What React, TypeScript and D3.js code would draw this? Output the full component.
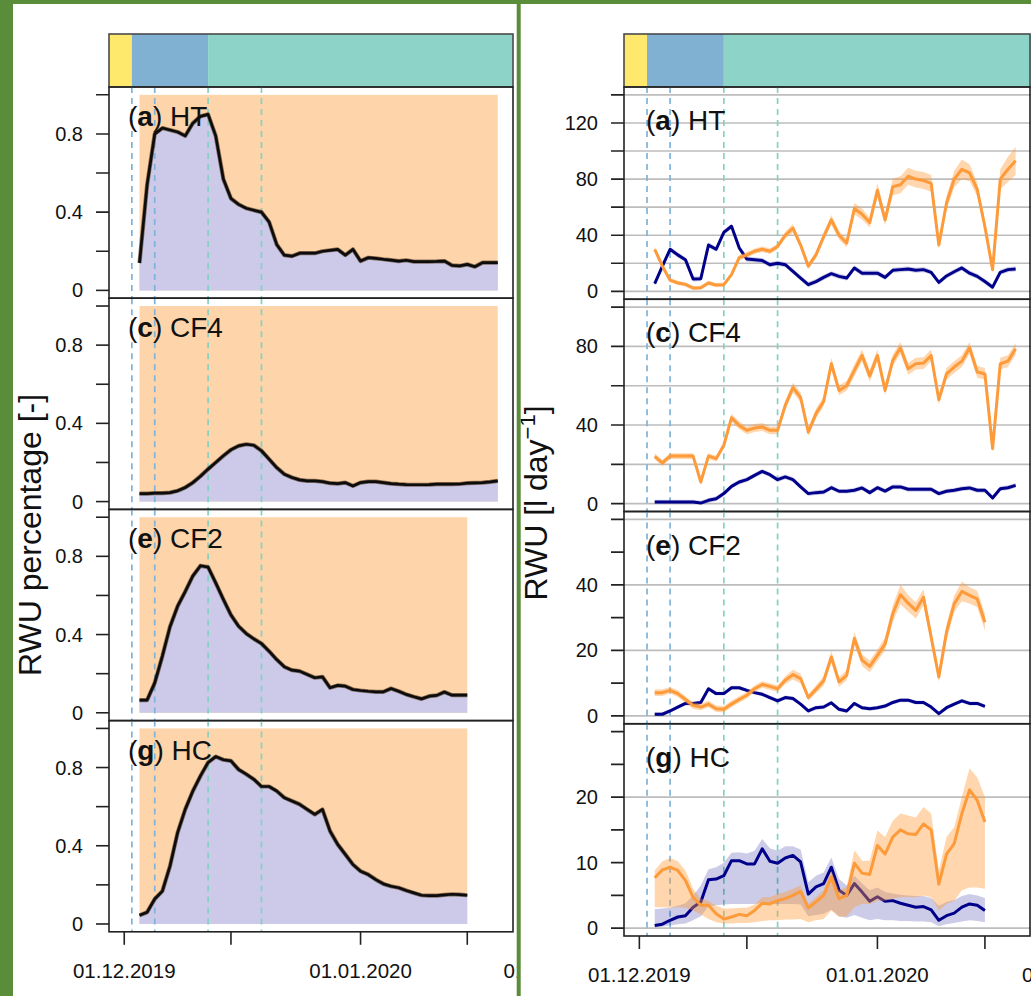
import React from "react";
import * as d3 from "d3";

// ---- data --------------------------------------------------------------
const firstDay = new Date(Date.UTC(2019, 11, 3));
const daysLong = d3.utcDay.range(firstDay, new Date(Date.UTC(2020, 0, 20))); // 03.12 - 19.01
const daysShort = d3.utcDay.range(firstDay, new Date(Date.UTC(2020, 0, 16))); // 03.12 - 15.01

// RWU percentage [-]
const pctHT = [0.14, 0.54, 0.8, 0.83, 0.82, 0.81, 0.79, 0.855, 0.89, 0.9, 0.79, 0.57, 0.47, 0.44, 0.42, 0.41, 0.4, 0.35, 0.235, 0.18, 0.175, 0.19, 0.19, 0.19, 0.2, 0.205, 0.21, 0.18, 0.21, 0.15, 0.167, 0.164, 0.159, 0.155, 0.15, 0.154, 0.147, 0.147, 0.147, 0.148, 0.15, 0.128, 0.125, 0.133, 0.121, 0.142, 0.142, 0.142];
const pctCF4 = [0.041, 0.041, 0.043, 0.043, 0.046, 0.055, 0.072, 0.097, 0.13, 0.166, 0.2, 0.234, 0.265, 0.285, 0.293, 0.288, 0.26, 0.217, 0.174, 0.14, 0.123, 0.111, 0.106, 0.106, 0.102, 0.094, 0.092, 0.097, 0.08, 0.097, 0.102, 0.102, 0.097, 0.092, 0.089, 0.087, 0.086, 0.086, 0.087, 0.089, 0.09, 0.089, 0.09, 0.094, 0.096, 0.097, 0.101, 0.106];
const pctCF2 = [0.065, 0.065, 0.153, 0.29, 0.44, 0.545, 0.62, 0.7, 0.752, 0.745, 0.664, 0.58, 0.5, 0.443, 0.405, 0.378, 0.354, 0.315, 0.272, 0.235, 0.218, 0.213, 0.196, 0.179, 0.184, 0.128, 0.14, 0.136, 0.119, 0.114, 0.11, 0.107, 0.107, 0.124, 0.11, 0.094, 0.082, 0.071, 0.085, 0.089, 0.106, 0.09, 0.09, 0.09];
const pctHC = [0.044, 0.06, 0.128, 0.168, 0.296, 0.467, 0.586, 0.68, 0.757, 0.826, 0.856, 0.84, 0.834, 0.79, 0.766, 0.74, 0.703, 0.703, 0.68, 0.646, 0.629, 0.612, 0.586, 0.56, 0.586, 0.475, 0.407, 0.356, 0.304, 0.27, 0.253, 0.227, 0.205, 0.193, 0.185, 0.171, 0.159, 0.147, 0.145, 0.145, 0.149, 0.152, 0.15, 0.147];

// RWU [l day-1], orange and dark blue series
const htOrange = [30, 18, 8, 6, 5, 2.4, 2.6, 6, 4.5, 4.8, 12, 24, 26, 28.6, 30, 28.6, 32, 40, 45, 33, 18, 26, 39, 51, 40, 34.5, 59, 55, 49, 72, 51, 74.5, 76, 82, 80, 79, 77, 33, 63, 80, 87, 84.5, 72.6, 46, 15.5, 80, 87, 93];
const htOrangeSpread = [2, 2, 1.5, 1.5, 1.5, 1.5, 1.5, 1.5, 1.5, 1.5, 1.5, 2, 2, 2, 2, 2, 2, 2.5, 3, 2.5, 2, 2.5, 3, 3.5, 3, 3, 4, 4, 3.5, 5, 4, 6, 6, 6, 6, 6, 6, 3, 5, 6, 7, 6, 5, 4, 2, 7, 9, 10];
const htBlue = [5.5, 18, 30, 26, 22.6, 8.8, 9, 33, 30, 42, 46.4, 31, 23, 22.6, 22, 19, 20, 19, 14.3, 9.5, 4.8, 7, 10, 12.6, 10.7, 9.5, 16.7, 13, 13, 13, 10, 15, 15.5, 16, 15, 15.5, 13.6, 6.4, 11, 14, 16.7, 13, 10.7, 7, 3, 13.6, 15.5, 16];

const cf4Orange = [24, 20.7, 24.2, 24.2, 24.2, 24.2, 11, 24.2, 22.9, 29.7, 43.7, 39.8, 37.3, 38.5, 39, 37.3, 37.3, 50, 59, 54, 36.4, 45.8, 52, 71.2, 57.6, 60, 67.8, 75.4, 65, 75.4, 57.6, 72.9, 79.3, 68.6, 71.2, 71.5, 75.4, 52.9, 66, 69.5, 72.5, 79.3, 67, 66, 28, 71.2, 72.5, 78.8];
const cf4OrangeSpread = [1.5, 1.5, 1.5, 1.5, 1.5, 1.5, 1.5, 1.5, 1.5, 1.5, 2, 2, 2, 2, 2, 2, 2, 2.5, 2.5, 2.5, 2, 2.5, 2.5, 3, 2.5, 2.5, 3, 3, 3, 3, 2.5, 3, 3, 3, 3, 3, 3, 2.5, 3, 3, 3, 3, 3, 3, 2, 3, 3, 3];
const cf4Blue = [0.8, 0.8, 0.8, 0.8, 0.8, 0.8, 0.3, 1.7, 2.5, 5.1, 8.8, 11, 12.2, 14.4, 16.4, 14.7, 12.2, 13.6, 12.2, 8.5, 5.1, 5.6, 5.9, 8.1, 6.3, 6.3, 6.8, 8, 5.6, 8.1, 6.4, 8.5, 8.5, 7.3, 7.3, 7.3, 7.3, 5.1, 6.3, 6.8, 7.6, 8, 6.8, 6.8, 2.9, 7.6, 8.1, 9.3];

const cf2Orange = [7.1, 7.1, 7.8, 6.8, 5, 3.2, 2.7, 3.6, 2.2, 2, 3.6, 5, 6.3, 8.3, 9.6, 9, 8.3, 10.9, 12.6, 11.4, 5.6, 8.1, 10.7, 18, 10.4, 12.4, 23.6, 17, 15.1, 18.5, 22, 31.2, 37, 34.4, 32.2, 36.2, 24, 11.9, 25.6, 34.2, 38, 36.8, 35.7, 28.6];
const cf2OrangeSpread = [1, 1, 1, 1, 1, 1, 1, 1, 1, 1, 1, 1, 1, 1, 1, 1, 1, 1.2, 1.5, 1.5, 1, 1.2, 1.5, 1.8, 1.5, 1.5, 2, 1.8, 1.8, 1.8, 2, 2.5, 3, 2.5, 2.5, 2.5, 2, 1.5, 2.5, 2.5, 3, 2.5, 2.5, 2.5];
const cf2Blue = [0.5, 0.5, 1.5, 2.7, 3.8, 3.8, 4.1, 8.3, 6.8, 6.8, 8.6, 8.6, 7.8, 7.1, 6.6, 5.6, 4.6, 5.6, 5.3, 3.6, 1.5, 2.5, 2.7, 4, 2, 1.5, 3.8, 2.5, 2.2, 2.5, 3, 4.1, 4.8, 4.8, 4.1, 4.1, 2.7, 0.7, 2.5, 3.6, 4.6, 3.8, 3.8, 2.9];

const hcOrange = [7.7, 8.9, 9.3, 8.8, 7.3, 4.7, 3.5, 3.5, 2.2, 1.4, 1.7, 2.1, 1.9, 2.7, 3.8, 3.7, 4.2, 4.5, 5, 5.6, 3.1, 4, 5, 7.8, 4.5, 5, 9.9, 8.4, 8.2, 12.6, 11.3, 13.9, 15, 14.4, 14.3, 15.9, 15, 6.7, 11.3, 12.9, 17.5, 21.1, 19.5, 16.2];
const hcOrangeHi = [8.8, 10.2, 10.7, 10.2, 8.8, 6, 4.5, 4.2, 3.4, 3, 3, 3.1, 3.1, 3.6, 4.7, 4.7, 5.2, 5.5, 6, 6.5, 3.7, 4.7, 5.8, 8.8, 5.8, 6.3, 11.9, 10.3, 10.3, 14.9, 13.9, 16.4, 17.5, 17.2, 16.9, 18.5, 17.5, 8.8, 13.9, 15.4, 20, 24.4, 23, 20];
const hcOrangeLo = [3.2, 3.2, 3.1, 3.2, 3.1, 2.7, 2.1, 1.4, 0.9, 0.7, 0.7, 0.8, 0.8, 0.9, 1.1, 1.2, 1.2, 1.3, 1.3, 1.4, 0.9, 1.2, 1.4, 2.7, 1.7, 1.8, 3.2, 3.7, 3.7, 4.2, 4.2, 4.5, 4.7, 4.7, 4.7, 5, 4.7, 2.7, 3.7, 4.2, 5.8, 6.2, 6.2, 6];
const hcBlue = [0.4, 0.6, 1.2, 1.7, 1.9, 3.2, 4, 7.4, 7.5, 8, 10.3, 10.3, 9.8, 9.8, 12.1, 10.2, 9.9, 10.7, 11.1, 10.1, 5.2, 6.3, 6.8, 9.3, 5.8, 5, 6.8, 5.5, 4.1, 4.8, 4.1, 4.2, 3.8, 3.5, 3.2, 3.3, 2.8, 1.2, 1.9, 2.3, 3.2, 3.7, 3.5, 2.7];
const hcBlueHi = [2.9, 3, 3.1, 3.4, 3.8, 5, 6.5, 9, 9.3, 10, 11.5, 11.6, 11.4, 11.8, 13.6, 12.2, 11.8, 12.5, 12.5, 12, 7, 8, 8.5, 10.8, 7.5, 6.5, 8, 6.8, 5.8, 6.2, 5.5, 5.3, 5.1, 5, 4.9, 4.9, 4.6, 3.4, 4, 4.3, 4.9, 5.2, 5, 4.6];
const hcBlueLo = [0.1, 0.2, 0.4, 0.6, 0.7, 1.2, 1.8, 3.3, 3.5, 3.6, 3.7, 3.7, 3.7, 3.7, 3.8, 3.7, 3.7, 3.7, 3.7, 3.6, 1.8, 2, 2.2, 2.8, 1.8, 1.6, 2, 1.6, 1.2, 1.4, 1.2, 1.2, 1.1, 1.1, 1, 1, 0.9, 0.3, 0.6, 0.8, 1, 1.2, 1.1, 0.9];
const blueSpread = [1.8, 1.2, 0.6];

// y tick labels of the right panels
const htLabels = [0, 40, 80, 120];
const cf4Labels = [0, 40, 80];
const cf2Labels = [0, 20, 40];
const hcLabels = [0, 10, 20];

// phases (top bar) and dashed event lines
const phaseStarts = [new Date(Date.UTC(2019, 10, 29)), new Date(Date.UTC(2019, 11, 2)), new Date(Date.UTC(2019, 11, 12))];
const phaseColors = ["#ffe96c", "#80b0d2", "#8dd3c7"];
const markerDates = [new Date(Date.UTC(2019, 11, 2)), new Date(Date.UTC(2019, 11, 5)), new Date(Date.UTC(2019, 11, 12)), new Date(Date.UTC(2019, 11, 19))];
const markerColors = ["#7fb3d9", "#7fb3d9", "#84d1c3", "#84d1c3"];

const xTickDates = [new Date(Date.UTC(2019, 11, 1)), new Date(Date.UTC(2019, 11, 15)), new Date(Date.UTC(2020, 0, 1)), new Date(Date.UTC(2020, 0, 15))];
const xTickLabels = ["01.12.2019", "", "01.01.2020", ""];
const xCutLabelDate = new Date(Date.UTC(2020, 0, 26, 12));
const xCutLabel = "01.02.2020";

// ---- layout --------------------------------------------------------------
const W = 1031;
const H = 996;
const FONT = "'Liberation Sans', Arial, Helvetica, sans-serif";
const GREEN = "#5a8d3a";
const xDomain = [new Date(Date.UTC(2019, 10, 29)), new Date(Date.UTC(2020, 0, 21))];
const xL = d3.scaleUtc().domain(xDomain).range([109, 513]);
const xR = d3.scaleUtc().domain(xDomain).range([624, 1031]);
const TOP = 87;
const L_H = 211.2;
const R_H = 212.25;

const leftPanels = [
  { tag: "a", name: "HT", values: pctHT, days: daysLong },
  { tag: "c", name: "CF4", values: pctCF4, days: daysLong },
  { tag: "e", name: "CF2", values: pctCF2, days: daysShort },
  { tag: "g", name: "HC", values: pctHC, days: daysShort },
];

const rightPanels = [
  {
    tag: "a", name: "HT", days: daysLong, max: 140, step: 20, labels: htLabels,
    orange: htOrange, orangeLo: htOrange.map((v, i) => v - htOrangeSpread[i]), orangeHi: htOrange.map((v, i) => v + htOrangeSpread[i]),
    blue: htBlue, blueLo: htBlue.map(v => Math.max(0, v - blueSpread[0])), blueHi: htBlue.map(v => v + blueSpread[0]),
  },
  {
    tag: "c", name: "CF4", days: daysLong, max: 100, step: 20, labels: cf4Labels,
    orange: cf4Orange, orangeLo: cf4Orange.map((v, i) => v - cf4OrangeSpread[i]), orangeHi: cf4Orange.map((v, i) => v + cf4OrangeSpread[i]),
    blue: cf4Blue, blueLo: cf4Blue.map(v => Math.max(0, v - blueSpread[1])), blueHi: cf4Blue.map(v => v + blueSpread[1]),
  },
  {
    tag: "e", name: "CF2", days: daysShort, max: 60, step: 10, labels: cf2Labels,
    orange: cf2Orange, orangeLo: cf2Orange.map((v, i) => v - cf2OrangeSpread[i]), orangeHi: cf2Orange.map((v, i) => v + cf2OrangeSpread[i]),
    blue: cf2Blue, blueLo: cf2Blue.map(v => Math.max(0, v - blueSpread[2])), blueHi: cf2Blue.map(v => v + blueSpread[2]),
  },
  {
    tag: "g", name: "HC", days: daysShort, max: 30, step: 5, labels: hcLabels,
    orange: hcOrange, orangeLo: hcOrangeLo, orangeHi: hcOrangeHi,
    blue: hcBlue, blueLo: hcBlueLo, blueHi: hcBlueHi,
  },
];

const PanelLabel = ({ x, y, tag, name }) => (
  <text x={x} y={y} fontSize={28} fontFamily={FONT} fill="#111">
    <tspan>(</tspan>
    <tspan fontWeight="bold">{tag}</tspan>
    <tspan>{") " + name}</tspan>
  </text>
);

const Markers = ({ x, top, bottom }) => (
  <g>
    {markerDates.map((d, i) => (
      <line key={i} x1={x(d)} x2={x(d)} y1={top} y2={bottom}
        stroke={markerColors[i]} strokeWidth={1.7} strokeDasharray="6,5" />
    ))}
  </g>
);

const PhaseBar = ({ x }) => {
  const [x0, x1] = x.range();
  return (
    <g>
      {phaseStarts.map((d, i) => {
        const a = x(d);
        const b = i < phaseStarts.length - 1 ? x(phaseStarts[i + 1]) : x1;
        return <rect key={i} x={a} y={34} width={b - a} height={TOP - 34} fill={phaseColors[i]} />;
      })}
      <rect x={x0} y={34} width={Math.min(x1, 1030) - x0} height={TOP - 34} fill="none" stroke="#4a4a4a" strokeWidth={1.6} />
    </g>
  );
};

const XAxis = ({ x, y0 }) => (
  <g fontFamily={FONT} fontSize={20.5} fill="#111">
    {xTickDates.map((d, i) => (
      <g key={i}>
        <line x1={x(d)} x2={x(d)} y1={y0} y2={y0 + 13} stroke="#222" strokeWidth={1.6} />
        {xTickLabels[i] && <text x={x(d)} y={y0 + 46} textAnchor="middle">{xTickLabels[i]}</text>}
      </g>
    ))}
    <text x={x(xCutLabelDate)} y={y0 + 46} textAnchor="middle">{xCutLabel}</text>
  </g>
);

const LeftPanel = ({ p, k }) => {
  const top = TOP + k * L_H;
  const bottom = top + L_H;
  const y = d3.scaleLinear().domain([-0.04, 1.04]).range([bottom, top]);
  const data = p.values.map((v, i) => [p.days[i], v]);
  const area = d3.area().x(d => xL(d[0])).y0(y(0)).y1(d => y(d[1]));
  const line = d3.line().x(d => xL(d[0])).y(d => y(d[1]));
  const xa = xL(p.days[0]);
  const xb = xL(p.days[p.days.length - 1]);
  const ticks = d3.range(0, 1.0001, 0.2);
  return (
    <g>
      <rect x={xa} y={y(1)} width={xb - xa} height={y(0) - y(1)} fill="#fed5aa" />
      <path d={area(data)} fill="#cccae8" />
      <Markers x={xL} top={top} bottom={bottom} />
      <PanelLabel x={128} y={top + 39} tag={p.tag} name={p.name} />
      <path d={line(data)} fill="none" stroke="#4a2c12" strokeWidth={4.2} strokeLinejoin="round" opacity={0.6} />
      <path d={line(data)} fill="none" stroke="#0c0c0c" strokeWidth={2.7} strokeLinejoin="round" />
      <rect x={109} y={top} width={513 - 109} height={L_H} fill="none" stroke="#222" strokeWidth={1.6} />
      <g fontFamily={FONT} fontSize={20} fill="#111">
        {ticks.map((t, i) => (
          <g key={i}>
            <line x1={96} x2={109} y1={y(t)} y2={y(t)} stroke="#222" strokeWidth={1.6} />
            {i % 2 === 0 && (
              <text x={83} y={y(t)} dy="0.35em" textAnchor="end">{t === 0 ? "0" : d3.format(".1f")(t)}</text>
            )}
          </g>
        ))}
      </g>
    </g>
  );
};

const RightPanel = ({ p, k }) => {
  const top = TOP + k * R_H;
  const bottom = top + R_H;
  const y = d3.scaleLinear().domain([-0.04 * p.max, 1.04 * p.max]).range([bottom, top]);
  const idx = d3.range(p.days.length);
  const band = (lo, hi) => d3.area().x(i => xR(p.days[i])).y0(i => y(lo[i])).y1(i => y(hi[i]))(idx);
  const line = vals => d3.line().x(i => xR(p.days[i])).y(i => y(vals[i]))(idx);
  const ticks = d3.range(0, p.max + 0.001, p.step);
  const grid = ticks.filter(t => t % 20 === 0);
  return (
    <g>
      {grid.map((t, i) => (
        <line key={i} x1={624} x2={1031} y1={y(t)} y2={y(t)} stroke="#bdbdbd" strokeWidth={1.6} />
      ))}
      <Markers x={xR} top={top} bottom={bottom} />
      <PanelLabel x={646} y={top + 43} tag={p.tag} name={p.name} />
      <path d={band(p.blueLo, p.blueHi)} fill="rgba(0,0,139,0.2)" />
      <path d={line(p.blue)} fill="none" stroke="#00008b" strokeWidth={3} strokeLinejoin="round" />
      <path d={band(p.orangeLo, p.orangeHi)} fill="rgba(255,153,51,0.4)" />
      <path d={line(p.orange)} fill="none" stroke="#fd9a3a" strokeWidth={3} strokeLinejoin="round" />
      <rect x={624} y={top} width={1030 - 624} height={R_H} fill="none" stroke="#222" strokeWidth={1.6} />
      <g fontFamily={FONT} fontSize={20} fill="#111">
        {ticks.map((t, i) => (
          <line key={i} x1={611} x2={624} y1={y(t)} y2={y(t)} stroke="#222" strokeWidth={1.6} />
        ))}
        {p.labels.map((t, i) => (
          <text key={i} x={598} y={y(t)} dy="0.35em" textAnchor="end">{t}</text>
        ))}
      </g>
    </g>
  );
};

const App = () => (
  <svg width={W} height={H} viewBox={`0 0 ${W} ${H}`} style={{ position: "absolute", left: 0, top: 0 }}>
    <defs>
      <clipPath id="clipLeft"><rect x={13} y={4} width={503.7} height={H - 4} /></clipPath>
      <clipPath id="clipRight"><rect x={520.7} y={4} width={W - 520.7} height={H - 4} /></clipPath>
    </defs>
    <rect x={0} y={0} width={W} height={H} fill={GREEN} />
    <rect x={13} y={4} width={503.7} height={H - 4} fill="#fff" />
    <rect x={520.7} y={4} width={W - 520.7} height={H - 4} fill="#fff" />

    <g clipPath="url(#clipLeft)">
      <PhaseBar x={xL} />
      {leftPanels.map((p, k) => <LeftPanel key={k} p={p} k={k} />)}
      <XAxis x={xL} y0={TOP + 4 * L_H} />
      <text transform="translate(41,535) rotate(-90)" textAnchor="middle" fontFamily={FONT} fontSize={32} fill="#111">
        RWU percentage [-]
      </text>
    </g>

    <g clipPath="url(#clipRight)">
      <PhaseBar x={xR} />
      {rightPanels.map((p, k) => <RightPanel key={k} p={p} k={k} />)}
      <XAxis x={xR} y0={TOP + 4 * R_H} />
      <text transform="translate(547,503) rotate(-90)" textAnchor="middle" fontFamily={FONT} fontSize={32} fill="#111">
        <tspan>RWU [l day</tspan>
        <tspan fontSize={22} dy={-12}>−1</tspan>
        <tspan dy={12}>]</tspan>
      </text>
    </g>
  </svg>
);

export default App;
